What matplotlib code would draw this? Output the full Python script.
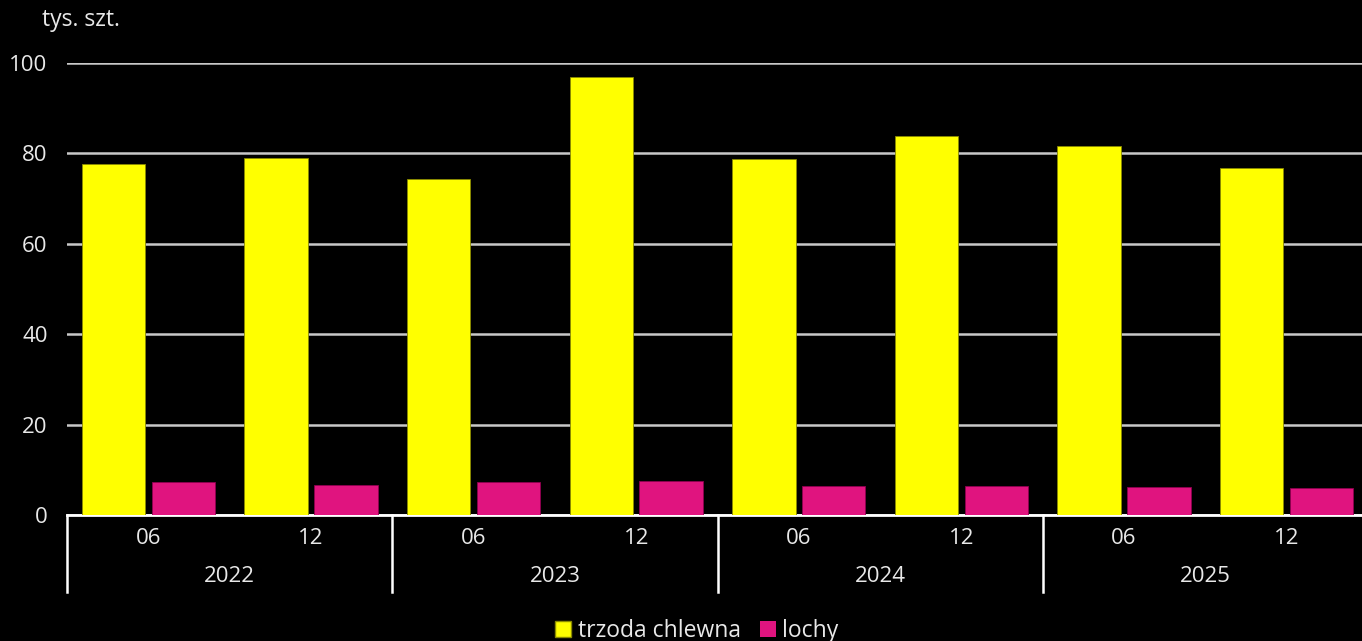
import matplotlib.pyplot as plt
from matplotlib.patches import Patch
import numpy as np

years = ["2022", "2023", "2024", "2025"]
months = ["06", "12"]
trzoda = [77.6, 79.0, 74.3, 96.9, 78.7, 83.8, 81.6, 76.8]
lochy = [7.2, 6.6, 7.2, 7.5, 6.4, 6.4, 6.1, 6.0]

yellow = "#ffff00"
magenta = "#e0147f"
font = ["Open Sans", "DejaVu Sans"]

plt.rcParams["font.family"] = font

fig = plt.figure(figsize=(13.62, 6.41), dpi=100, facecolor="black")
ax = fig.add_axes([67 / 1362, 1 - 515 / 641, 1301 / 1362, (515 - 63) / 641])
ax.set_facecolor("black")

x = np.arange(len(trzoda))
w = 0.39
ax.bar(x - 0.215, trzoda, w, color=yellow, edgecolor="#8a8a00", linewidth=0.6, zorder=3)
ax.bar(x + 0.215, lochy, w, color=magenta, edgecolor="#900050", linewidth=0.6, zorder=3)

ax.set_xlim(-0.5, len(trzoda) - 0.5)
ax.set_ylim(0, 100)
ax.set_yticks([0, 20, 40, 60, 80, 100])
ax.yaxis.grid(True, color="#c8c8c8", linewidth=1.8, zorder=0)
ax.tick_params(axis="y", length=0, colors="#e8e8e8", labelsize=16, pad=14)
ax.tick_params(axis="x", length=0, labelbottom=False)
for s in ["top", "right", "left"]:
    ax.spines[s].set_visible(False)
ax.spines["bottom"].set_color("white")
ax.spines["bottom"].set_linewidth(2)

# two-level category axis
trans = ax.get_xaxis_transform()
for i in x:
    ax.text(i, -0.053, months[i % 2], transform=trans, ha="center", va="center",
            color="#e8e8e8", fontsize=16)
for j, yr in enumerate(years):
    ax.text(2 * j + 0.5, -0.137, yr, transform=trans, ha="center", va="center",
            color="#e8e8e8", fontsize=16)
    ax.plot([2 * j - 0.5, 2 * j - 0.5], [0, -0.17], transform=trans, color="white",
            linewidth=1.8, clip_on=False)

fig.text(42 / 1362, 1 - 20 / 641, "tys. szt.", color="#e8e8e8", fontsize=16.5,
         ha="left", va="center")

handles = [Patch(facecolor=yellow, edgecolor="#8a8a00"), Patch(facecolor=magenta)]
fig.legend(handles, ["trzoda chlewna", "lochy"], loc="lower center",
           bbox_to_anchor=(697 / 1362, -0.035), ncol=2, frameon=False,
           handlelength=0.7, handleheight=0.7, handletextpad=0.3, columnspacing=0.8,
           labelcolor="#e8e8e8", prop={"size": 16.5})

plt.savefig("out.png", facecolor="black")
